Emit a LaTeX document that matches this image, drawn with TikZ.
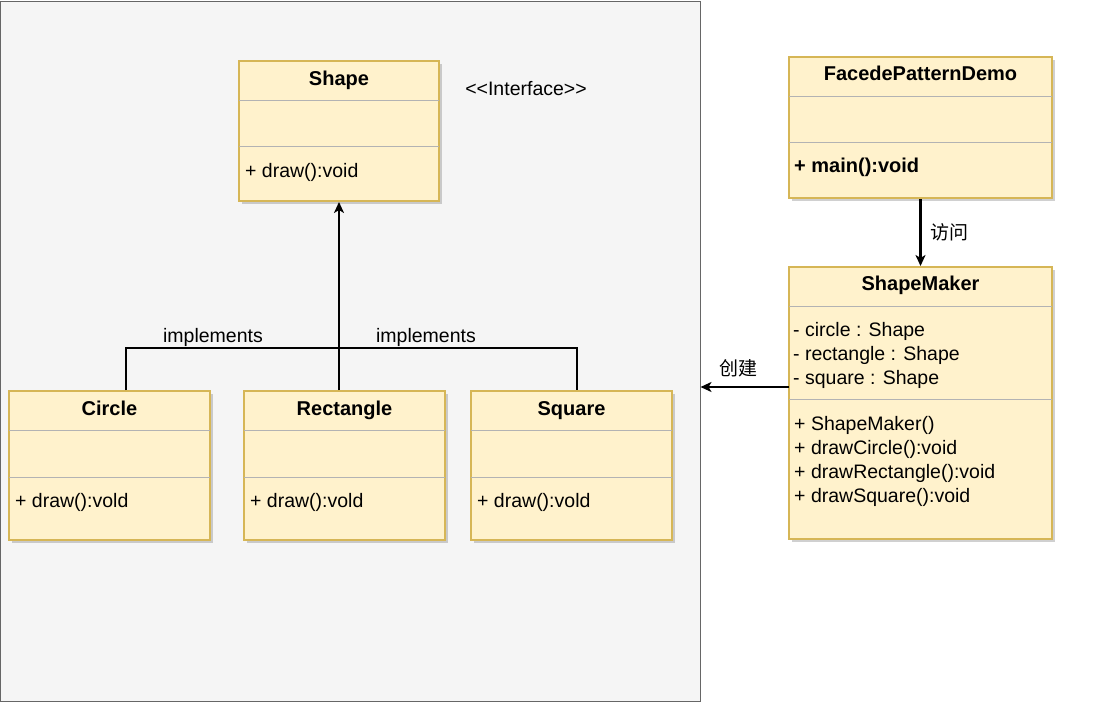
\documentclass[tikz,border=0pt]{standalone}
\usepackage{fontspec}
\setmainfont{Liberation Sans}
\newfontfamily\cjk{Noto Sans CJK SC}
\usepackage{xcolor}
\usetikzlibrary{positioning,arrows.meta,shadows}
\definecolor{clsfill}{HTML}{FFF2CC}
\definecolor{clsdraw}{HTML}{D6B656}
\definecolor{sepline}{HTML}{B3B3B3}
\definecolor{panelfill}{HTML}{F5F5F5}
\definecolor{paneldraw}{HTML}{666666}

\begin{document}
\begin{tikzpicture}[x=1pt,y=-1pt,font=\fontsize{19.5}{24}\selectfont,>={Stealth[length=11pt,width=10pt,inset=3pt]},
  cls/.style={rectangle,draw=clsdraw,fill=clsfill,line width=2pt,inner sep=0pt,
    drop shadow={shadow xshift=3pt,shadow yshift=-3pt,opacity=0.3,fill=black!60}},
  sep/.style={draw=sepline,line width=1pt},
  ttl/.style={font=\fontsize{20}{24}\selectfont\bfseries,inner sep=0pt,anchor=base},
  mem/.style={anchor=base west,inner sep=0pt},
  conn/.style={draw,line width=2.3pt},
  lbl/.style={inner sep=0pt},
  zh/.style={inner sep=0pt,font=\fontsize{19}{22}\cjk}]
\useasboundingbox[fill=white] (0,0) rectangle (1105,725);
% left panel
\node[rectangle,draw=paneldraw,fill=panelfill,line width=1pt,minimum width=700,minimum height=699,inner sep=0pt] (panel) at (350,351.5) {};
% interface Shape
\node[cls,minimum width=200,minimum height=140] (shape) at (339,131) {};
\draw[sep] (239,100) -- (439,100);
\draw[sep] (239,146) -- (439,146);
\node[ttl] (shape-t) at (339,85) {Shape};
\node[mem] (shape-m) at (245,177) {+ draw():void};
\node[lbl] (iface) at (526,89) {<{}<Interface>{}>};
% implementing classes
\node[cls,minimum width=201,minimum height=149] (circ) at (109.5,465.5) {};
\node[cls,minimum width=201,minimum height=149] (rect) at (344.5,465.5) {};
\node[cls,minimum width=201,minimum height=149] (sq) at (571.5,465.5) {};
\foreach \c/\l in {circ/9,rect/244,sq/471}{
  \draw[sep] (\l,430) -- (\l+201,430);
  \draw[sep] (\l,477) -- (\l+201,477);
  \node[mem] (\c-m) at (\l+6,507) {+ draw():vold};
}
\node[ttl] (circ-t) at (109.5,415) {Circle};
\node[ttl] (rect-t) at (344.5,415) {Rectangle};
\node[ttl] (sq-t) at (571.5,415) {Square};
% realisation lines
\draw[conn,->] ([xshift=-5.5]rect.north) -- (shape.south);
\draw[conn] ([xshift=16.5]circ.north) |- (451,348) -| ([xshift=5.5]sq.north);
\node[lbl] (impl1) at (213,337) {implements};
\node[lbl] (impl2) at (426,337) {implements};
% FacedePatternDemo
\node[cls,minimum width=263,minimum height=141] (demo) at (920.5,127.5) {};
\draw[sep] (789,96) -- (1052,96);
\draw[sep] (789,142) -- (1052,142);
\node[ttl] (demo-t) at (920.5,80) {FacedePatternDemo};
\node[mem,font=\fontsize{20}{24}\selectfont\bfseries] (demo-m) at (794,172) {+ main():void};
% ShapeMaker
\node[cls,minimum width=263,minimum height=272] (maker) at (920.5,403) {};
\draw[sep] (789,306) -- (1052,306);
\draw[sep] (789,399) -- (1052,399);
\node[ttl] (maker-t) at (920.5,290) {ShapeMaker};
\foreach \t [count=\i] in {- circle : Shape,- rectangle : Shape,- square : Shape}
  \node[mem] (maker-a\i) at (793,312+24*\i) {\t};
\foreach \t [count=\i] in {+ ShapeMaker(),+ drawCircle():void,+ drawRectangle():void,+ drawSquare():void}
  \node[mem] (maker-m\i) at (794,406+24*\i) {\t};
% associations
\draw[conn,->] (demo.south) -- node[right=9pt,zh] (visit) {访问} (maker.north);
\coordinate (mk) at (789,387);
\draw[conn,->] (mk) -- node[above=9pt,zh,xshift=-6pt] (create) {创建} (mk -| panel.east);
\end{tikzpicture}
\end{document}
